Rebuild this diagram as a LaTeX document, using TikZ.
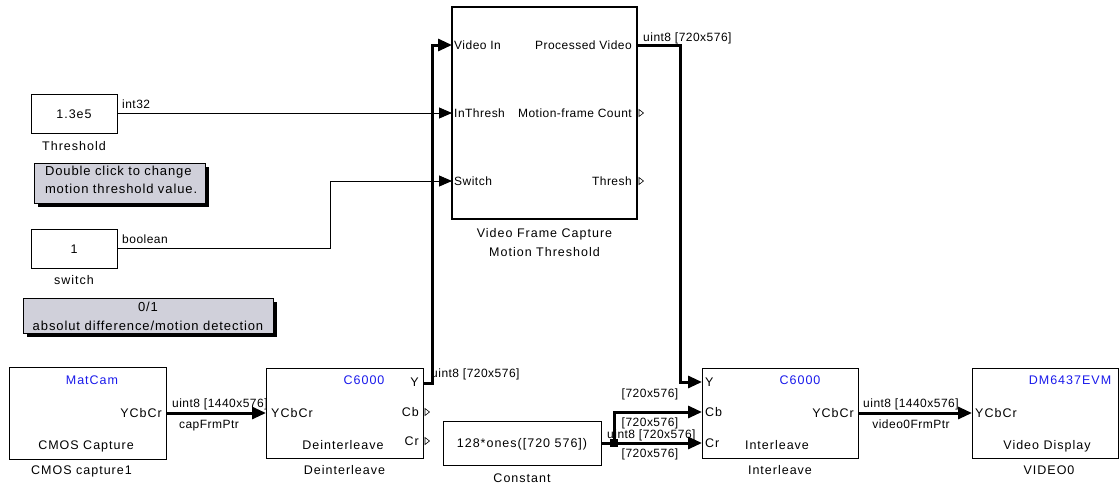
\documentclass[tikz,border=0pt]{standalone}
\usepackage{fontspec}
\setmainfont{Liberation Sans}
\newfontfamily\simfont[LetterSpace=8]{Liberation Sans}
\newfontfamily\portfont[LetterSpace=4]{Liberation Sans}
\newfontfamily\notefont[LetterSpace=7]{Liberation Sans}
\usepackage{xcolor}
\usepackage{tikz}
\usetikzlibrary{positioning, arrows.meta, calc}

\definecolor{notegray}{RGB}{208,208,218}
\definecolor{maskblue}{RGB}{25,25,235}

\newcommand{\outtri}[1]{\draw[line width=0.6pt] ($(#1)+(2,-3.5)$) -- ($(#1)+(6.5,0)$) -- ($(#1)+(2,3.5)$) -- cycle;}

\begin{document}
\begin{tikzpicture}[
    x=1pt, y=-1pt,
    lbl/.style={inner sep=0pt, text height=9pt, text depth=0pt, font=\simfont\fontsize{12.5}{14}\selectfont},
    blk/.style={lbl, draw, line width=0.8pt, anchor=north west, outer sep=0pt},
    port/.style={lbl, font=\portfont\fontsize{12}{14}\selectfont},
    mask/.style={lbl, text=maskblue},
    note/.style={draw, line width=0.8pt, fill=notegray, anchor=north west, outer sep=0pt,
        inner sep=0pt, align=#1, font=\notefont\fontsize{13}{18}\selectfont},
    sig/.style={line width=0.9pt, -{Triangle[length=13pt, width=11pt]}},
    bus/.style={line width=3pt, -{Triangle[length=14pt, width=12pt]}},
]
\useasboundingbox (0,0) rectangle (1120,485);

% blocks
\node[blk, line width=2pt, minimum width=185, minimum height=212] (vfc) at (452,7) {};
\node[blk, minimum width=86, minimum height=39] (thr) at (31,94) {1.3e5};
\node[blk, minimum width=86, minimum height=39] (sw) at (31,229) {1};
\node[blk, minimum width=157, minimum height=92] (cmos) at (9,367) {};
\node[blk, minimum width=157, minimum height=90] (deint) at (266,368) {};
\node[blk, minimum width=158, minimum height=44] (const) at (443,421) {128*ones([720 576])};
\node[blk, minimum width=156, minimum height=90] (inter) at (702,368) {};
\node[blk, minimum width=146, minimum height=90] (disp) at (972,368) {};

% block names
\node[lbl, below=9pt of vfc] (vfcname) {Video Frame Capture};
\node[lbl, below=9.5pt of vfcname] (vfcname2) {Motion Threshold};
\node[lbl, below=8pt of thr] (thrname) {Threshold};
\node[lbl, below=7.5pt of sw] (swname) {switch};
\node[lbl, below=6.5pt of cmos, xshift=-6pt] (cmosname) {CMOS capture1};
\node[lbl, below=7pt of deint] (deintname) {Deinterleave};
\node[lbl, below=8.5pt of const] (constname) {Constant};
\node[lbl, below=7pt of inter] (intername) {Interleave};
\node[lbl, below=7pt of disp, xshift=4pt] (dispname) {VIDEO0};

% annotations
\node[note=left, minimum width=171, minimum height=40, text width=163] (hint1) at (34,163)
    {\hspace*{7pt}Double click to change\\\hspace*{7pt}motion threshold value.\rule[-7pt]{0pt}{7pt}};
\fill ($(hint1.north east)+(0,4)$) rectangle ($(hint1.south east)+(4,4)$);
\fill ($(hint1.south west)+(4,0)$) rectangle ($(hint1.south east)+(4,4)$);
\node[note=center, minimum width=250, minimum height=35,
      font=\notefont\fontsize{13}{19}\selectfont] (hint2) at (23,298)
    {\rule{0pt}{11pt}0/1\\absolut difference/motion detection};
\fill ($(hint2.north east)+(0,4)$) rectangle ($(hint2.south east)+(4,4)$);
\fill ($(hint2.south west)+(4,0)$) rectangle ($(hint2.south east)+(4,4)$);

% ports
\coordinate (vfc-vin) at ($(vfc.north west)+(0,38)$);
\coordinate (vfc-thr) at ($(vfc.north west)+(0,106)$);
\coordinate (vfc-sw)  at ($(vfc.north west)+(0,174)$);
\coordinate (vfc-pv)  at ($(vfc.north east)+(0,38)$);
\coordinate (vfc-cnt) at ($(vfc.north east)+(0,106)$);
\coordinate (vfc-th)  at ($(vfc.north east)+(0,174)$);
\coordinate (deint-y)  at ($(deint.north east)+(0,15)$);
\coordinate (deint-cb) at ($(deint.north east)+(0,44)$);
\coordinate (deint-cr) at ($(deint.north east)+(0,73)$);
\coordinate (inter-y)  at ($(inter.north west)+(0,14)$);
\coordinate (inter-cb) at ($(inter.north west)+(0,44)$);
\coordinate (inter-cr) at ($(inter.north west)+(0,75)$);
\coordinate (jn) at ($(const.east)+(13,0)$);

% port texts
\node[port, anchor=west] (pvin) at ($(vfc-vin)+(2,0)$) {Video In};
\node[port, anchor=west] (pthr) at ($(vfc-thr)+(2,0)$) {InThresh};
\node[port, anchor=west] (psw) at ($(vfc-sw)+(2,0)$) {Switch};
\node[port, anchor=east] (ppv) at ($(vfc-pv)+(-5,0)$) {Processed Video};
\node[port, anchor=east] (pcnt) at ($(vfc-cnt)+(-5,0)$) {Motion-frame Count};
\node[port, anchor=east] (pth) at ($(vfc-th)+(-5,0)$) {Thresh};
\outtri{vfc-cnt}
\outtri{vfc-th}

\node[mask] (cmosmask) at (92,380) {MatCam};
\node[lbl, anchor=east] (cmosout) at (162,413) {YCbCr};
\node[lbl] (cmostxt) at (86,445) {CMOS Capture};

\node[mask] (deintmask) at (364,380) {C6000};
\node[lbl, anchor=west] (deintin) at (271,413) {YCbCr};
\node[lbl, anchor=east] (deinty) at ($(deint-y)+(-4,-1)$) {Y};
\node[lbl, anchor=east] (deintcb) at ($(deint-cb)+(-4,0)$) {Cb};
\node[lbl, anchor=east] (deintcr) at ($(deint-cr)+(-4,0)$) {Cr};
\node[lbl] (deinttxt) at (343,445) {Deinterleave};
\outtri{deint-cb}
\outtri{deint-cr}

\node[mask] (intermask) at (800,380) {C6000};
\node[lbl, anchor=west] (intery) at ($(inter-y)+(3,0)$) {Y};
\node[lbl, anchor=west] (intercb) at ($(inter-cb)+(3,0)$) {Cb};
\node[lbl, anchor=west] (intercr) at ($(inter-cr)+(3,0)$) {Cr};
\node[lbl, anchor=east] (interout) at (854,413) {YCbCr};
\node[lbl] (intertxt) at (777,445) {Interleave};

\node[mask] (dispmask) at (1070,380) {DM6437EVM};
\node[lbl, anchor=west] (dispin) at (975,413) {YCbCr};
\node[lbl] (disptxt) at (1047,445) {Video Display};

% signals
\draw[sig] (thr.east |- vfc-thr) -- (vfc-thr);
\draw[sig] (sw.east) -| ($(vfc-sw)+(-122,0)$) -- (vfc-sw);
\draw[bus] (cmos.east) -- (cmos.east -| deint.west);
\draw[bus] (deint-y) -- ++(9,0) |- (vfc-vin);
\draw[bus] (vfc-pv) -- ++(43,0) |- (inter-y);
\draw[bus] (const.east) -- (jn) |- (inter-cb);
\draw[bus] (jn) -- (inter-cr);
\fill (jn) ++(-4,-4) rectangle ++(8,8);
\draw[bus] (inter.east) -- (inter.east -| disp.west);

% signal labels
\node[port, anchor=west] (lint) at (122,104) {int32};
\node[port, anchor=west] (lbool) at (122,238.5) {boolean};
\node[port, anchor=west] (lcap) at (172,403) {uint8 [1440x576]};
\node[port] (lcapname) at (209,424) {capFrmPtr};
\node[port, anchor=west] (ly) at (431,373) {uint8 [720x576]};
\node[port, anchor=west] (lpv) at (643,36.5) {uint8 [720x576]};
\node[port] (ldim1) at (650,393) {[720x576]};
\node[port] (ldim2) at (650,421.5) {[720x576]};
\node[port, anchor=west] (ldim3) at (607,434) {uint8 [720x576]};
\node[port] (ldim4) at (650,452.5) {[720x576]};
\node[port, anchor=west] (lvid) at (863,403) {uint8 [1440x576]};
\node[port] (lvidname) at (911,424) {video0FrmPtr};
\end{tikzpicture}
\end{document}
